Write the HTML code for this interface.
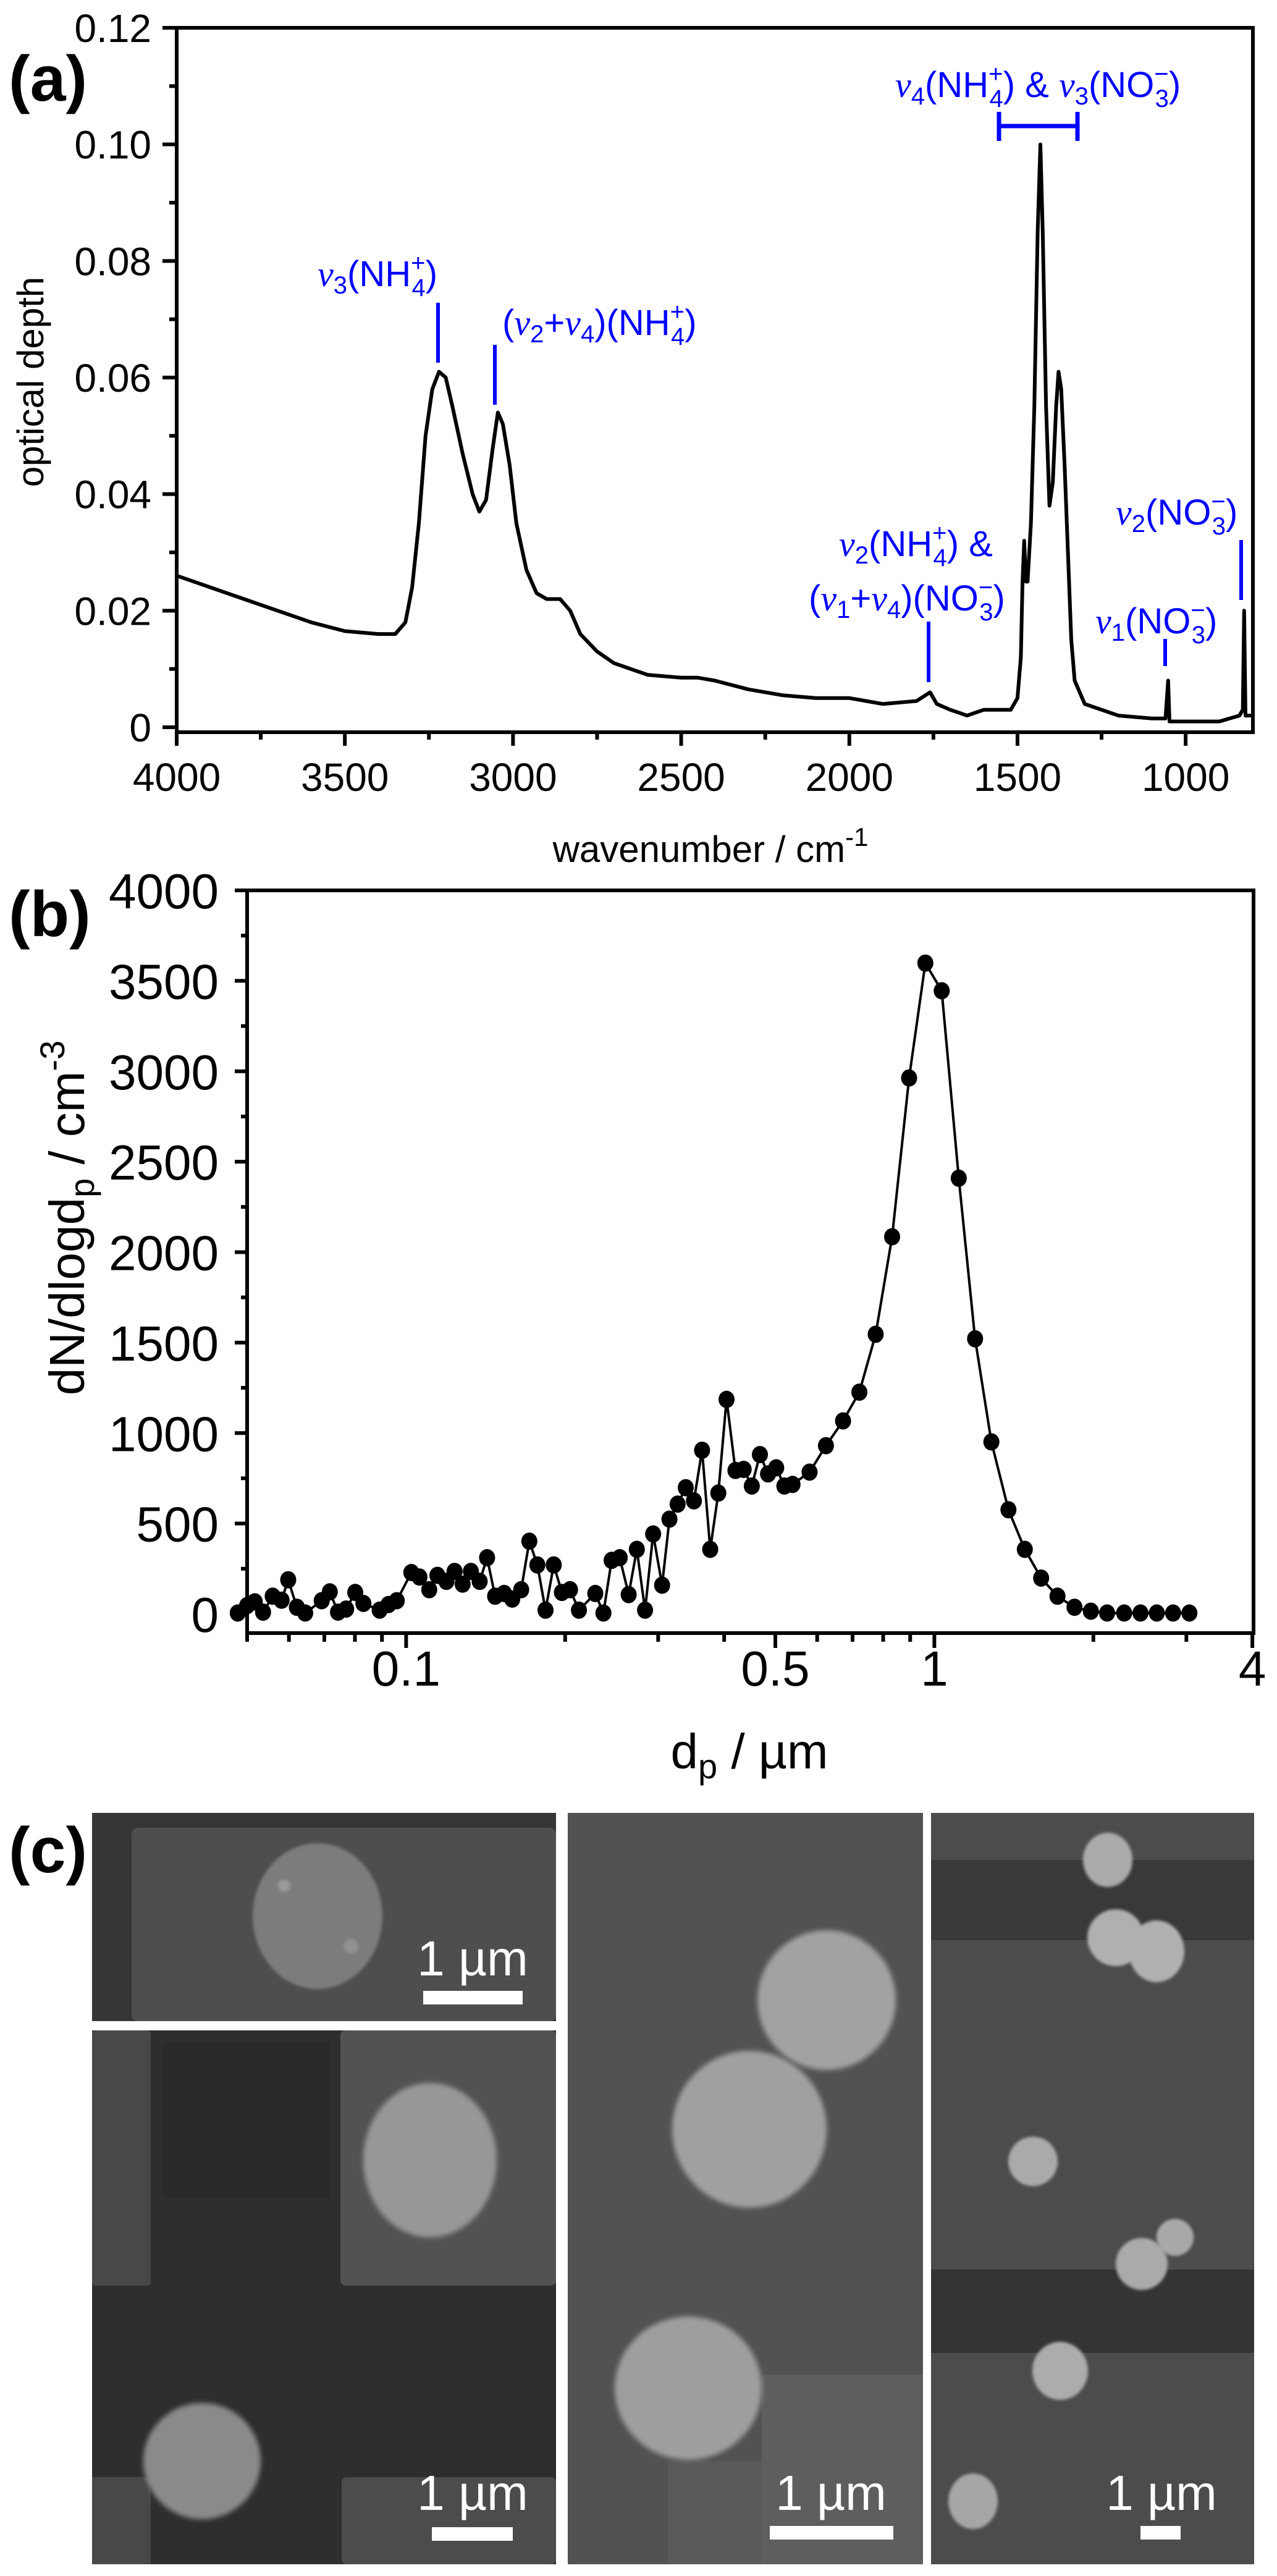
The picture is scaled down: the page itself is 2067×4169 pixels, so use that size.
<!DOCTYPE html>
<html><head><meta charset="utf-8"><style>
html,body{margin:0;padding:0;background:#fff;}
svg{display:block;font-family:"Liberation Sans",sans-serif;}
.ann{fill:#0000ff;font-size:58px;font-family:"Liberation Sans Narrow","Liberation Sans",sans-serif;}
.nu{font-family:"Liberation Serif",serif;font-style:italic;}
.tick{font-size:64px;}
.tickb{font-size:80px;}
</style></head><body>
<svg id="fig" width="2067" height="4169" viewBox="0 0 2067 4169" xmlns="http://www.w3.org/2000/svg">
<defs>
<filter id="soft" x="-20%" y="-20%" width="140%" height="140%"><feGaussianBlur stdDeviation="4"/></filter>
<filter id="soft2" x="-20%" y="-20%" width="140%" height="140%"><feGaussianBlur stdDeviation="2.5"/></filter>
</defs>

<!-- Panel labels -->
<text x="14" y="163" font-size="104" font-weight="bold">(a)</text>
<text x="14" y="1515" font-size="104" font-weight="bold">(b)</text>
<text x="14" y="3030" font-size="104" font-weight="bold">(c)</text>

<g id="chartA"></g>
<g id="chartB"></g>

<!-- Annotations panel a -->
<g>
<text class="ann" x="514" y="463"><tspan class="nu">ν</tspan><tspan font-size="40" dy="12">3</tspan><tspan dy="-12">(NH</tspan><tspan font-size="40" dy="-24">+</tspan><tspan font-size="40" dx="-22" dy="40">4</tspan><tspan dy="-16">)</tspan></text>
<line x1="709" y1="490" x2="709" y2="587" stroke="#0000ff" stroke-width="6"/>
<text class="ann" x="813" y="542">(<tspan class="nu">ν</tspan><tspan font-size="40" dy="12">2</tspan><tspan dy="-12">+</tspan><tspan class="nu">ν</tspan><tspan font-size="40" dy="12">4</tspan><tspan dy="-12">)(NH</tspan><tspan font-size="40" dy="-24">+</tspan><tspan font-size="40" dx="-22" dy="40">4</tspan><tspan dy="-16">)</tspan></text>
<line x1="801" y1="558" x2="801" y2="655" stroke="#0000ff" stroke-width="6"/>
<text class="ann" x="1449" y="157"><tspan class="nu">ν</tspan><tspan font-size="40" dy="12">4</tspan><tspan dy="-12">(NH</tspan><tspan font-size="40" dy="-24">+</tspan><tspan font-size="40" dx="-22" dy="40">4</tspan><tspan dy="-16">) &amp; </tspan><tspan class="nu">ν</tspan><tspan font-size="40" dy="12">3</tspan><tspan dy="-12">(NO</tspan><tspan font-size="40" dy="-24">−</tspan><tspan font-size="40" dx="-22" dy="40">3</tspan><tspan dy="-16">)</tspan></text>
<g stroke="#0000ff" stroke-width="7">
<line x1="1617" y1="204" x2="1744" y2="204"/><line x1="1617" y1="181" x2="1617" y2="228"/><line x1="1744" y1="181" x2="1744" y2="228"/></g>
<text class="ann" x="1358" y="900"><tspan class="nu">ν</tspan><tspan font-size="40" dy="12">2</tspan><tspan dy="-12">(NH</tspan><tspan font-size="40" dy="-24">+</tspan><tspan font-size="40" dx="-22" dy="40">4</tspan><tspan dy="-16">) &amp;</tspan></text>
<text class="ann" x="1309" y="988">(<tspan class="nu">ν</tspan><tspan font-size="40" dy="12">1</tspan><tspan dy="-12">+</tspan><tspan class="nu">ν</tspan><tspan font-size="40" dy="12">4</tspan><tspan dy="-12">)(NO</tspan><tspan font-size="40" dy="-24">−</tspan><tspan font-size="40" dx="-22" dy="40">3</tspan><tspan dy="-16">)</tspan></text>
<line x1="1503" y1="1006" x2="1503" y2="1104" stroke="#0000ff" stroke-width="6"/>
<text class="ann" x="1773" y="1025"><tspan class="nu">ν</tspan><tspan font-size="40" dy="12">1</tspan><tspan dy="-12">(NO</tspan><tspan font-size="40" dy="-24">−</tspan><tspan font-size="40" dx="-22" dy="40">3</tspan><tspan dy="-16">)</tspan></text>
<line x1="1886" y1="1034" x2="1886" y2="1078" stroke="#0000ff" stroke-width="6"/>
<text class="ann" x="1806" y="849"><tspan class="nu">ν</tspan><tspan font-size="40" dy="12">2</tspan><tspan dy="-12">(NO</tspan><tspan font-size="40" dy="-24">−</tspan><tspan font-size="40" dx="-22" dy="40">3</tspan><tspan dy="-16">)</tspan></text>
<line x1="2009" y1="874" x2="2009" y2="971" stroke="#0000ff" stroke-width="6"/>
</g>

<!-- Panel c: SEM images -->
<g>
<rect x="149" y="2934" width="751" height="337" fill="#363636"/>
<rect x="213" y="2958" width="687" height="313" rx="10" fill="#4e4e4e"/>
<ellipse cx="514" cy="3101" rx="105" ry="118" fill="#7c7c7c" filter="url(#soft2)"/>
<circle cx="460" cy="3052" r="10" fill="#9a9a9a" filter="url(#soft2)"/>
<circle cx="568" cy="3150" r="12" fill="#929292" filter="url(#soft2)"/>
<text x="765" y="3197" font-size="80" fill="#fff" text-anchor="middle">1 µm</text>
<rect x="685" y="3222" width="161" height="22" fill="#fff"/>
</g>
<g>
<rect x="149" y="3286" width="751" height="864" fill="#2e2e2e"/>
<rect x="149" y="3286" width="95" height="413" rx="6" fill="#484848"/>
<rect x="264" y="3306" width="270" height="250" fill="#292929"/>
<rect x="551" y="3286" width="349" height="413" rx="8" fill="#525252"/>
<rect x="149" y="4009" width="95" height="141" fill="#484848"/>
<rect x="553" y="4009" width="347" height="141" rx="8" fill="#4c4c4c"/>
<ellipse cx="696" cy="3496" rx="108" ry="125" fill="#979797" filter="url(#soft)"/>
<ellipse cx="327" cy="3983" rx="95" ry="94" fill="#8a8a8a" filter="url(#soft)"/>
<text x="765" y="4062" font-size="80" fill="#fff" text-anchor="middle">1 µm</text>
<rect x="699" y="4090" width="131" height="22" fill="#fff"/>
</g>
<g>
<rect x="919" y="2934" width="575" height="1216" fill="#525252"/>
<rect x="1233" y="3843" width="261" height="307" fill="#5e5e5e"/>
<rect x="1081" y="3983" width="152" height="167" fill="#595959"/>
<ellipse cx="1338" cy="3237" rx="112" ry="113" fill="#a2a2a2" filter="url(#soft)"/>
<ellipse cx="1213" cy="3446" rx="125" ry="127" fill="#a0a0a0" filter="url(#soft)"/>
<ellipse cx="1114" cy="3865" rx="119" ry="116" fill="#9e9e9e" filter="url(#soft)"/>
<text x="1345" y="4062" font-size="80" fill="#fff" text-anchor="middle">1 µm</text>
<rect x="1246" y="4088" width="200" height="22" fill="#fff"/>
</g>
<g>
<rect x="1507" y="2934" width="523" height="1216" fill="#4c4c4c"/>
<rect x="1507" y="3010" width="523" height="130" fill="#393939"/>
<rect x="1507" y="3673" width="523" height="135" fill="#343434"/>
<ellipse cx="1793" cy="3010" rx="40" ry="44" fill="#aaaaaa" filter="url(#soft2)"/>
<ellipse cx="1806" cy="3136" rx="46" ry="46" fill="#b0b0b0" filter="url(#soft2)"/>
<ellipse cx="1872" cy="3158" rx="45" ry="50" fill="#b0b0b0" filter="url(#soft2)"/>
<ellipse cx="1672" cy="3498" rx="40" ry="40" fill="#aaaaaa" filter="url(#soft2)"/>
<ellipse cx="1902" cy="3621" rx="30" ry="30" fill="#a8a8a8" filter="url(#soft2)"/>
<ellipse cx="1848" cy="3664" rx="42" ry="42" fill="#aaaaaa" filter="url(#soft2)"/>
<ellipse cx="1716" cy="3837" rx="45" ry="47" fill="#acacac" filter="url(#soft2)"/>
<ellipse cx="1575" cy="4048" rx="40" ry="45" fill="#a6a6a6" filter="url(#soft2)"/>
<text x="1880" y="4062" font-size="80" fill="#fff" text-anchor="middle">1 µm</text>
<rect x="1846" y="4088" width="65" height="22" fill="#fff"/>
</g>
</svg>
<script>
// ---- Panel (a) data ----
const wavenumbers = [4000,3900,3800,3700,3600,3500,3400,3350,3320,3300,3280,3260,3240,3220,3200,3180,3150,3120,3100,3080,3060,3045,3030,3010,2990,2960,2930,2900,2860,2830,2800,2750,2700,2650,2600,2500,2450,2400,2300,2200,2100,2000,1900,1800,1760,1740,1700,1650,1600,1520,1500,1490,1485,1480,1475,1470,1460,1450,1440,1432,1425,1415,1405,1395,1385,1378,1370,1360,1350,1340,1330,1300,1250,1200,1100,1060,1052,1048,1000,900,840,830,826,822,800];
const opticalDepth = [0.026,0.024,0.022,0.020,0.018,0.0165,0.016,0.016,0.018,0.024,0.035,0.050,0.058,0.061,0.060,0.055,0.047,0.040,0.037,0.039,0.048,0.054,0.052,0.045,0.035,0.027,0.023,0.022,0.022,0.020,0.016,0.013,0.011,0.010,0.009,0.0085,0.0085,0.008,0.0065,0.0055,0.005,0.005,0.004,0.0045,0.006,0.004,0.003,0.002,0.003,0.003,0.005,0.012,0.025,0.032,0.025,0.025,0.035,0.055,0.085,0.100,0.085,0.055,0.038,0.042,0.055,0.061,0.058,0.045,0.030,0.015,0.008,0.004,0.003,0.002,0.0015,0.0015,0.008,0.001,0.001,0.001,0.002,0.003,0.020,0.002,0.002];
const aYTicks = [0,0.02,0.04,0.06,0.08,0.10,0.12];
const aYTickLabels = ["0","0.02","0.04","0.06","0.08","0.10","0.12"];
const aXTicks = [4000,3500,3000,2500,2000,1500,1000];
const aXTickLabels = ["4000","3500","3000","2500","2000","1500","1000"];

// ---- Panel (b) data ----
const diameters = [0.0480,0.0500,0.0517,0.0536,0.0559,0.0581,0.0598,0.0621,0.0644,0.0692,0.0717,0.0743,0.0770,0.0801,0.0830,0.0891,0.0926,0.0960,0.1023,0.1060,0.1106,0.1146,0.1192,0.1235,0.1279,0.1326,0.1378,0.1423,0.1474,0.1533,0.1588,0.1651,0.1711,0.1772,0.1836,0.1903,0.1972,0.2043,0.2124,0.2281,0.2363,0.2449,0.2537,0.2638,0.2734,0.2833,0.2935,0.3052,0.3151,0.3265,0.3384,0.3506,0.3633,0.3764,0.3900,0.4042,0.4202,0.4355,0.4512,0.4675,0.4844,0.5019,0.5200,0.5388,0.5805,0.6234,0.6717,0.7212,0.7743,0.8317,0.8957,0.9616,1.0325,1.1122,1.1941,1.2823,1.3812,1.4832,1.5925,1.7104,1.8422,1.9780,2.1237,2.2875,2.4557,2.6368,2.8311,3.0398];
const dNdlogDp = [5,46,67,10,98,76,189,37,5,73,122,10,27,119,58,21,52,73,229,204,134,213,180,235,165,235,180,311,98,113,82,134,402,271,21,271,119,134,21,113,5,296,311,107,357,21,442,159,524,607,698,625,905,357,668,1186,793,799,707,881,774,808,707,716,784,930,1067,1226,1546,2085,2963,3598,3445,2409,1521,951,576,357,198,98,37,15,5,5,5,5,5,5];
const bYTicks = [0,500,1000,1500,2000,2500,3000,3500,4000];
const bYTickLabels = ["0","500","1000","1500","2000","2500","3000","3500","4000"];
const bXTicks = [0.1,0.5,1,4];
const bXTickLabels = ["0.1","0.5","1","4"];
const bXMinor = [0.05,0.06,0.07,0.08,0.09,0.2,0.3,0.4,0.6,0.7,0.8,0.9,2,3];

const NS = "http://www.w3.org/2000/svg";
function mk(tag, attrs, parent){const e=document.createElementNS(NS,tag);for(const k in attrs)e.setAttribute(k,attrs[k]);parent.appendChild(e);return e;}

// ---- Draw panel (a) ----
(function(){
  const g=document.getElementById('chartA');
  const L=286,R=2028,T=45,B=1185;
  const xA=v=>L+(4000-v)*(R-L)/3200;
  const yA=v=>1177-v*(1177-45)/0.12;
  const frame=mk('rect',{x:L,y:T,width:R-L,height:B-T,fill:'none',stroke:'#000','stroke-width':6},g);
  
  
  for(let i=0;i<aYTicks.length;i++){
    const y=yA(aYTicks[i]);
    mk('line',{x1:L-23,y1:y,x2:L,y2:y,stroke:'#000','stroke-width':6},g);
    const t=mk('text',{x:245,y:y+23,'text-anchor':'end',class:'tick'},g);
    t.textContent=aYTickLabels[i];
    
    
    if(i<aYTicks.length-1){const ym=yA(aYTicks[i]+0.01);mk('line',{x1:L-12,y1:ym,x2:L,y2:ym,stroke:'#000','stroke-width':6},g);}
  }
  for(let i=0;i<aXTicks.length;i++){
    const x=xA(aXTicks[i]);
    mk('line',{x1:x,y1:B,x2:x,y2:B+22,stroke:'#000','stroke-width':6},g);
    const xm=xA(aXTicks[i]-250);
    if(xm<R) mk('line',{x1:xm,y1:B,x2:xm,y2:B+12,stroke:'#000','stroke-width':6},g);
    const t=mk('text',{x:x,y:1280,'text-anchor':'middle',class:'tick'},g);
    t.textContent=aXTickLabels[i];
    
    
  }
  let d='';
  for(let i=0;i<wavenumbers.length;i++){d+=(i?'L':'M')+xA(wavenumbers[i]).toFixed(1)+','+yA(opticalDepth[i]).toFixed(1);}
  const p=mk('path',{d:d,fill:'none',stroke:'#000','stroke-width':6,'stroke-linejoin':'round'},g);
  
  
  const xt=mk('text',{x:1150,y:1395,'text-anchor':'middle','font-size':60},g);
  xt.innerHTML='wavenumber / cm<tspan font-size="42" dy="-26">-1</tspan>';
  
  
  const yt=mk('text',{x:0,y:0,'text-anchor':'middle','font-size':60,transform:'translate(70,618) rotate(-90)'},g);
  yt.textContent='optical depth';
  
  
})();

// ---- Draw panel (b) ----
(function(){
  const g=document.getElementById('chartB');
  const L=400,R=2029,T=1441,B=2643;
  const xB=v=>L+Math.log10(v/0.05)*855;
  const yB=v=>2612-v*(2612-1441)/4000;
  const frame=mk('rect',{x:L,y:T,width:R-L,height:B-T,fill:'none',stroke:'#000','stroke-width':6},g);
  
  
  for(let i=0;i<bYTicks.length;i++){
    const y=yB(bYTicks[i]);
    mk('line',{x1:L-20,y1:y,x2:L,y2:y,stroke:'#000','stroke-width':6},g);
    if(i<bYTicks.length-1){const ym=yB(bYTicks[i]+250);mk('line',{x1:L-10,y1:ym,x2:L,y2:ym,stroke:'#000','stroke-width':6},g);}
    const t=mk('text',{x:354,y:y+29,'text-anchor':'end',class:'tickb'},g);
    t.textContent=bYTickLabels[i];
    
    
  }
  for(let i=0;i<bXTicks.length;i++){
    const x=xB(bXTicks[i]);
    mk('line',{x1:x,y1:B,x2:x,y2:B+24,stroke:'#000','stroke-width':6},g);
    const t=mk('text',{x:x,y:2728,'text-anchor':'middle',class:'tickb'},g);
    t.textContent=bXTickLabels[i];
    
    
  }
  for(const m of bXMinor){const x=xB(m);mk('line',{x1:x,y1:B,x2:x,y2:B+14,stroke:'#000','stroke-width':6},g);}
  let d='';
  for(let i=0;i<diameters.length;i++){d+=(i?'L':'M')+xB(diameters[i]).toFixed(1)+','+yB(dNdlogDp[i]).toFixed(1);}
  const p=mk('path',{d:d,fill:'none',stroke:'#000','stroke-width':4},g);
  
  
  for(let i=0;i<diameters.length;i++){
    const c=mk('ellipse',{cx:xB(diameters[i]).toFixed(1),cy:yB(dNdlogDp[i]).toFixed(1),rx:13,ry:14,fill:'#000'},g);
    
    
  }
  const xt=mk('text',{x:1213,y:2862,'text-anchor':'middle','font-size':80},g);
  xt.innerHTML='d<tspan font-size="56" dy="16">p</tspan><tspan dy="-16"> / µm</tspan>';
  
  
  const yt=mk('text',{x:0,y:0,'text-anchor':'middle','font-size':80,transform:'translate(136,1971) rotate(-90)'},g);
  yt.innerHTML='dN/dlogd<tspan font-size="56" dy="16">p</tspan><tspan dy="-16"> / cm</tspan><tspan font-size="56" dy="-32">-3</tspan>';
  
  
})();
</script>
</body></html>
